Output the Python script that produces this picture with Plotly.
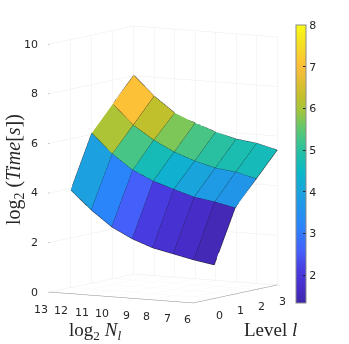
import plotly.graph_objects as go

log2_nl = [13, 12, 11, 10, 9, 8, 7, 6]
levels = [0, 1, 2, 3]
time_ticks = [0, 2, 4, 6, 8, 10]
bar_ticks = [2, 3, 4, 5, 6, 7, 8]
time_level0 = [3.93, 3.19, 2.57, 2.15, 1.85, 1.67, 1.49, 1.35]
time_level1 = [6.05, 5.27, 4.68, 4.30, 4.03, 3.78, 3.65, 3.47]
time_level2 = [7.04, 6.25, 5.71, 5.29, 4.99, 4.77, 4.67, 4.46]
time_level3 = [8.02, 7.24, 6.62, 6.28, 5.98, 5.76, 5.65, 5.44]
rows = [time_level0, time_level1, time_level2, time_level3]

parula = [
    [0.0, "rgb(62,38,168)"], [0.05, "rgb(72,44,200)"], [0.12, "rgb(72,60,225)"],
    [0.185, "rgb(68,95,250)"], [0.28, "rgb(42,133,250)"], [0.39, "rgb(28,160,224)"],
    [0.47, "rgb(10,184,200)"], [0.55, "rgb(40,192,160)"], [0.62, "rgb(90,200,115)"],
    [0.70, "rgb(168,197,56)"], [0.745, "rgb(196,191,43)"], [0.85, "rgb(254,190,58)"],
    [0.925, "rgb(246,220,36)"], [1.0, "rgb(249,251,21)"],
]

n = len(log2_nl)
vx, vy, vz = [], [], []
for lv, row in zip(levels, rows):
    for a, b in zip(log2_nl, row):
        vx.append(a); vy.append(lv); vz.append(b)
ii, jj, kk, cc = [], [], [], []
for r in range(len(levels) - 1):
    for c in range(n - 1):
        p = r * n + c
        ii += [p, p]; jj += [p + 1, p + n + 1]; kk += [p + n + 1, p + n]
        cc += [rows[r][c], rows[r][c]]

lx, ly, lz = [], [], []
for lv, row in zip(levels, rows):
    lx += log2_nl + [None]; ly += [lv] * n + [None]; lz += row + [None]
for c, a in enumerate(log2_nl):
    lx += [a] * len(levels) + [None]; ly += levels + [None]
    lz += [row[c] for row in rows] + [None]

TICK = dict(family="DejaVu Sans", size=11, color="#262626")
TITLE = dict(family="Liberation Serif", size=19, color="#262626")
TITLE_Z = dict(family="Liberation Serif", size=20, color="#262626")

fig = go.Figure()
fig.add_trace(go.Mesh3d(
    x=vx, y=vy, z=vz, i=ii, j=jj, k=kk, intensity=cc, intensitymode="cell",
    colorscale=parula, cmin=1.33, cmax=8.0, flatshading=True,
    lighting=dict(ambient=1, diffuse=0, specular=0, fresnel=0, roughness=1),
    hoverinfo="skip",
    colorbar=dict(
        x=296 / 349, xanchor="left", y=(344 - 303) / 344, yanchor="bottom",
        lenmode="pixels", len=278, thicknessmode="pixels", thickness=10,
        tickvals=bar_ticks, ticks="inside", ticklen=3, tickcolor="#262626",
        outlinecolor="#8a8a8a", outlinewidth=1, tickfont=TICK, xpad=0, ypad=0,
    ),
))
fig.add_trace(go.Scatter3d(x=lx, y=ly, z=lz, mode="lines",
                           line=dict(color="#14141e", width=1),
                           hoverinfo="skip", showlegend=False))

def axis(**kw):
    base = dict(showbackground=False, gridcolor="#ececec", gridwidth=1, showline=True,
                linecolor="#8c8c8c", linewidth=1, ticks="inside", ticklen=3, tickcolor="#8c8c8c",
                zeroline=False, showspikes=False, title=dict(text=""), showticklabels=False)
    base.update(kw)
    return base

scene_notes = (
    [dict(x=v, y=-1, z=0, text=str(v), showarrow=False, font=TICK, xanchor="right", yanchor="middle",
          xshift=0, yshift=-17) for v in log2_nl]
    + [dict(x=6, y=v, z=0, text=str(v), showarrow=False, font=TICK, xanchor="center", yanchor="middle",
            xshift=5, yshift=-17) for v in levels]
    + [dict(x=13, y=-1, z=v, text=str(v), showarrow=False, font=TICK, xanchor="right", yanchor="middle",
            xshift=-10, yshift=0) for v in time_ticks]
)

fig.update_layout(
    width=349, height=344, margin=dict(l=0, r=0, t=0, b=0), paper_bgcolor="white",
    showlegend=False,
    scene=dict(
        domain=dict(x=[0, 327 / 349], y=[(344 - 329) / 344, 1]),
        xaxis=axis(range=[13, 6], tickvals=log2_nl),
        yaxis=axis(range=[-1, 3], tickvals=levels),
        zaxis=axis(range=[0, 10], tickvals=time_ticks, showline=False, ticks="outside"),
        aspectmode="manual", aspectratio=dict(x=1.015, y=1.0, z=1.52),
        camera=dict(projection=dict(type="orthographic"),
                    eye=dict(x=0.507 * 2.153, y=-0.853 * 2.153, z=0.1275 * 2.153),
                    center=dict(x=0, y=0, z=0), up=dict(x=0, y=0, z=1)),
        annotations=scene_notes,
    ),
    annotations=[
        dict(text="log<sub>2</sub> <i>N<sub>l</sub></i>", x=95 / 349, y=1 - 331 / 344, xref="paper", yref="paper",
             xanchor="center", yanchor="middle", showarrow=False, font=TITLE),
        dict(text="Level <i>l</i>", x=270 / 349, y=1 - 329 / 344, xref="paper", yref="paper",
             xanchor="center", yanchor="middle", showarrow=False, font=TITLE),
        dict(text="log<sub>2</sub> (<i>Time</i>[<i>s</i>])", x=14 / 349, y=1 - 170 / 344, xref="paper", yref="paper",
             xanchor="center", yanchor="middle", textangle=-90, showarrow=False, font=TITLE_Z),
    ],
)
fig.write_html("out.html", config=dict(displayModeBar=False), post_script="document.body.style.margin='0';")
